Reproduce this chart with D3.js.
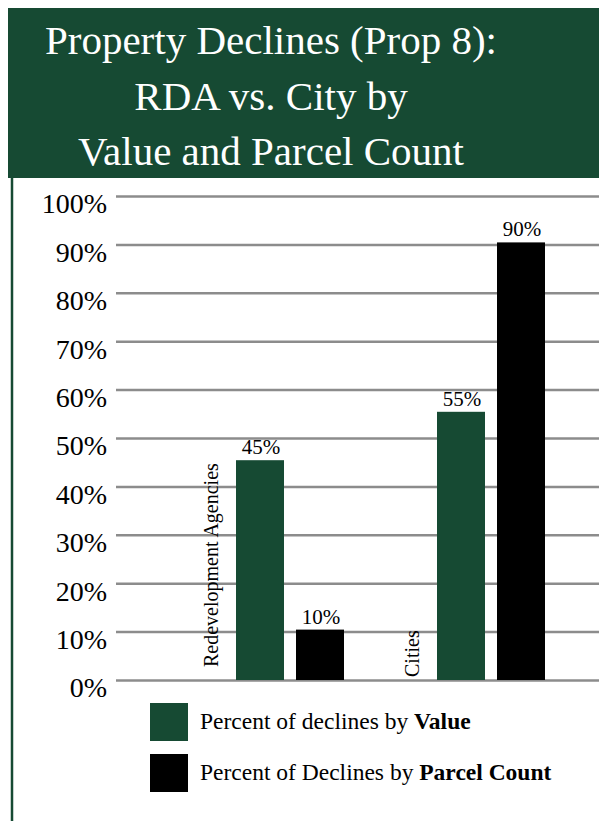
<!DOCTYPE html>
<html>
<head>
<meta charset="utf-8">
<script src="https://d3js.org/d3.v7.min.js"></script>
<style>
  body { margin: 0; background: #fff; }
</style>
</head>
<body>
<svg id="chart" width="599" height="821"></svg>
<script>
// chart data
const titleLines = ["Property Declines (Prop 8):", "RDA vs. City by", "Value and Parcel Count"];
const categories = ["Redevelopment Agencies", "Cities"];
const seriesKeys = ["value", "parcel"];
const valueSeries = [45, 55];   // % of declines by value
const parcelSeries = [10, 90];  // % of declines by parcel count
const yTicks = [0, 10, 20, 30, 40, 50, 60, 70, 80, 90, 100];
const legendPlain = ["Percent of declines by ", "Percent of Declines by "];
const legendBold = ["Value", "Parcel Count"];

const GREEN = "#164a33";
const FONT = "Liberation Serif";
const colors = { value: GREEN, parcel: "#000" };

const svg = d3.select("#chart");
const W = 599;

// header band + left rule
svg.append("rect")
  .attr("x", 8).attr("y", 8)
  .attr("width", W - 8).attr("height", 170)
  .attr("fill", GREEN);

svg.append("line")
  .attr("x1", 12).attr("x2", 12)
  .attr("y1", 178).attr("y2", 821)
  .attr("stroke", GREEN)
  .attr("stroke-width", 2.5);

svg.append("g")
  .selectAll("text")
  .data(titleLines)
  .enter()
  .append("text")
  .attr("x", 271)
  .attr("y", (d, i) => 54 + i * 55.5)
  .attr("text-anchor", "middle")
  .attr("fill", "#fff")
  .attr("font-family", FONT)
  .attr("font-size", 41)
  .text(d => d);

// scales
const y = d3.scaleLinear().domain([0, 100]).range([680, 196]);
const x0 = d3.scaleBand().domain(categories).range([200, 602]);
const x1 = d3.scaleBand().domain(seriesKeys).range([36, 144]).paddingInner(0.2);

// y axis with full width grid lines
const yAxis = d3.axisLeft(y)
  .tickValues(yTicks)
  .tickSize(-(W - 116))
  .tickPadding(9)
  .tickFormat(d => d + "%");

const axisG = svg.append("g")
  .attr("transform", "translate(116,0)")
  .call(yAxis)
  .attr("font-family", FONT);

axisG.select(".domain").remove();
axisG.selectAll(".tick line")
  .attr("stroke", "#8c8c8c")
  .attr("stroke-width", 2.5);
axisG.selectAll(".tick text")
  .attr("font-family", FONT)
  .attr("font-size", 28)
  .attr("fill", "#000")
  .attr("dy", "0.6em");

// bars
const rows = categories.map((c, i) => ({
  cat: c,
  items: [
    { key: "value", v: valueSeries[i] },
    { key: "parcel", v: parcelSeries[i] }
  ]
}));

const groups = svg.append("g")
  .selectAll("g")
  .data(rows)
  .enter()
  .append("g")
  .attr("transform", d => `translate(${x0(d.cat)},0)`);

groups.selectAll("rect")
  .data(d => d.items)
  .enter()
  .append("rect")
  .attr("x", d => x1(d.key))
  .attr("y", d => y(d.v) - 2)
  .attr("width", x1.bandwidth())
  .attr("height", d => y(0) - y(d.v) + 2)
  .attr("fill", d => colors[d.key]);

groups.selectAll("text.bar-label")
  .data(d => d.items)
  .enter()
  .append("text")
  .attr("class", "bar-label")
  .attr("x", d => x1(d.key) + x1.bandwidth() / 2 + 1)
  .attr("y", d => y(d.v) - 8)
  .attr("text-anchor", "middle")
  .attr("font-family", FONT)
  .attr("font-size", 21)
  .text(d => d.v + "%");

// rotated category labels, sitting left of each group
groups.append("text")
  .attr("transform", (d, i) => {
    const bx = x1("value") - 18;
    const by = i === 0 ? 667 : 677;
    return `translate(${bx},${by}) rotate(-90)`;
  })
  .attr("font-family", FONT)
  .attr("font-size", 20)
  .text(d => d.cat);

// legend
const legend = svg.append("g")
  .selectAll("g")
  .data(seriesKeys)
  .enter()
  .append("g")
  .attr("transform", (d, i) => `translate(150,${703 + i * 51})`);

legend.append("rect")
  .attr("width", 38)
  .attr("height", 38)
  .attr("fill", d => colors[d]);

const legendText = legend.append("text")
  .attr("x", 50)
  .attr("y", 26)
  .attr("font-family", FONT)
  .attr("font-size", 23.5);

legendText.append("tspan").text((d, i) => legendPlain[i]);
legendText.append("tspan")
  .attr("font-weight", "bold")
  .text((d, i) => legendBold[i]);
</script>
</body>
</html>
